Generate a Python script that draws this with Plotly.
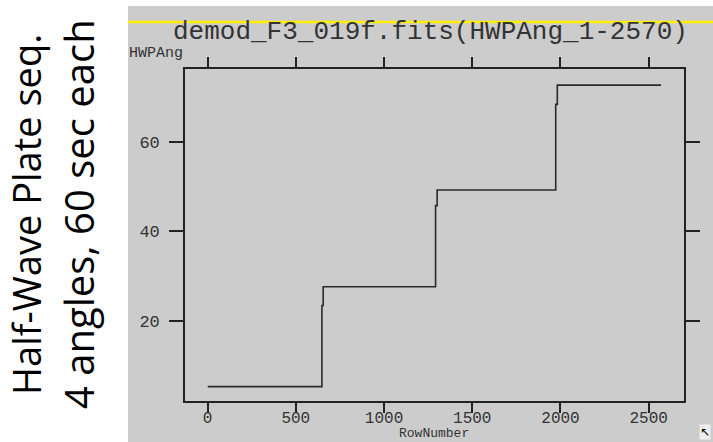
import plotly.graph_objects as go

W, H = 713, 442

# Data: HWP angle step function (row where a new value starts, value)
row_start = [1, 648, 655, 1292, 1301, 1973, 1982, 2570]
hwp_angle = [5.3, 23.4, 27.6, 45.7, 49.2, 68.3, 72.6, 72.6]

x_ticks = [0, 500, 1000, 1500, 2000, 2500]
y_ticks = [20, 40, 60]

title_text = "demod_F3_019f.fits(HWPAng_1-2570)"
side_line1 = "Half-Wave Plate seq."
side_line2 = "4 angles, 60 sec each"

GRAY = "#cccccc"
MONO = "Liberation Mono, DejaVu Sans Mono, monospace"

def px(x):
    return x / W

def py(y):
    return 1 - y / H

fig = go.Figure()
fig.add_trace(go.Scatter(
    x=row_start, y=hwp_angle, mode="lines", line_shape="hv",
    line=dict(color="#2a2a2a", width=1.6), hoverinfo="skip", showlegend=False,
))

axis_common = dict(
    showgrid=False, zeroline=False, showline=True, linecolor="#222222",
    linewidth=1.6, mirror="allticks", ticks="outside", tickcolor="#222222",
    tickwidth=1.6,
)

fig.update_layout(
    width=W, height=H, autosize=False,
    margin=dict(l=0, r=0, t=0, b=0),
    paper_bgcolor="white", plot_bgcolor=GRAY,
    xaxis=dict(domain=[px(185), px(684)], range=[-128, 2700],
               tickvals=x_ticks, ticklen=10, ticklabelstandoff=-9,
               tickfont=dict(family=MONO, size=16, color="#333333"),
               **axis_common),
    yaxis=dict(domain=[py(401), py(69)], range=[2.1, 76.2],
               tickvals=y_ticks, ticklen=14, ticklabelstandoff=6,
               tickfont=dict(family=MONO, size=17, color="#333333"),
               **axis_common),
    shapes=[
        dict(type="rect", xref="paper", yref="paper", x0=px(128), x1=1,
             y0=0, y1=py(6), fillcolor=GRAY, line=dict(width=0), layer="below"),
        dict(type="line", xref="paper", yref="paper", x0=px(128), x1=1,
             y0=py(22), y1=py(22), line=dict(color="#ffee00", width=2.5)),
    ],
    annotations=[
        dict(text=title_text, xref="paper", yref="paper", x=px(430), y=py(32),
             xanchor="center", yanchor="middle", showarrow=False,
             font=dict(family=MONO, size=26, color="#333333")),
        dict(text="HWPAng", xref="paper", yref="paper", x=px(127), y=py(53),
             xanchor="left", yanchor="middle", showarrow=False,
             font=dict(family=MONO, size=15, color="#333333")),
        dict(text="RowNumber", xref="paper", yref="paper", x=px(434), y=0,
             xanchor="center", yanchor="bottom", showarrow=False, borderpad=0,
             font=dict(family=MONO, size=13, color="#333333")),
        dict(text=side_line1, xref="paper", yref="paper", x=px(26), y=py(215),
             xanchor="center", yanchor="middle", textangle=-90, showarrow=False,
             font=dict(family="Open Sans, Noto Sans, sans-serif", size=38, color="black")),
        dict(text=side_line2, xref="paper", yref="paper", x=px(78), y=py(214),
             xanchor="center", yanchor="middle", textangle=-90, showarrow=False,
             font=dict(family="Open Sans, Noto Sans, sans-serif", size=40, color="black")),
        dict(text="↖", xref="paper", yref="paper", x=px(705), y=py(432),
             xanchor="center", yanchor="middle", showarrow=False,
             bgcolor="#eeeeee", borderpad=0,
             font=dict(family="DejaVu Sans", size=12, color="black")),
    ],
)

fig.write_html("out.html")
